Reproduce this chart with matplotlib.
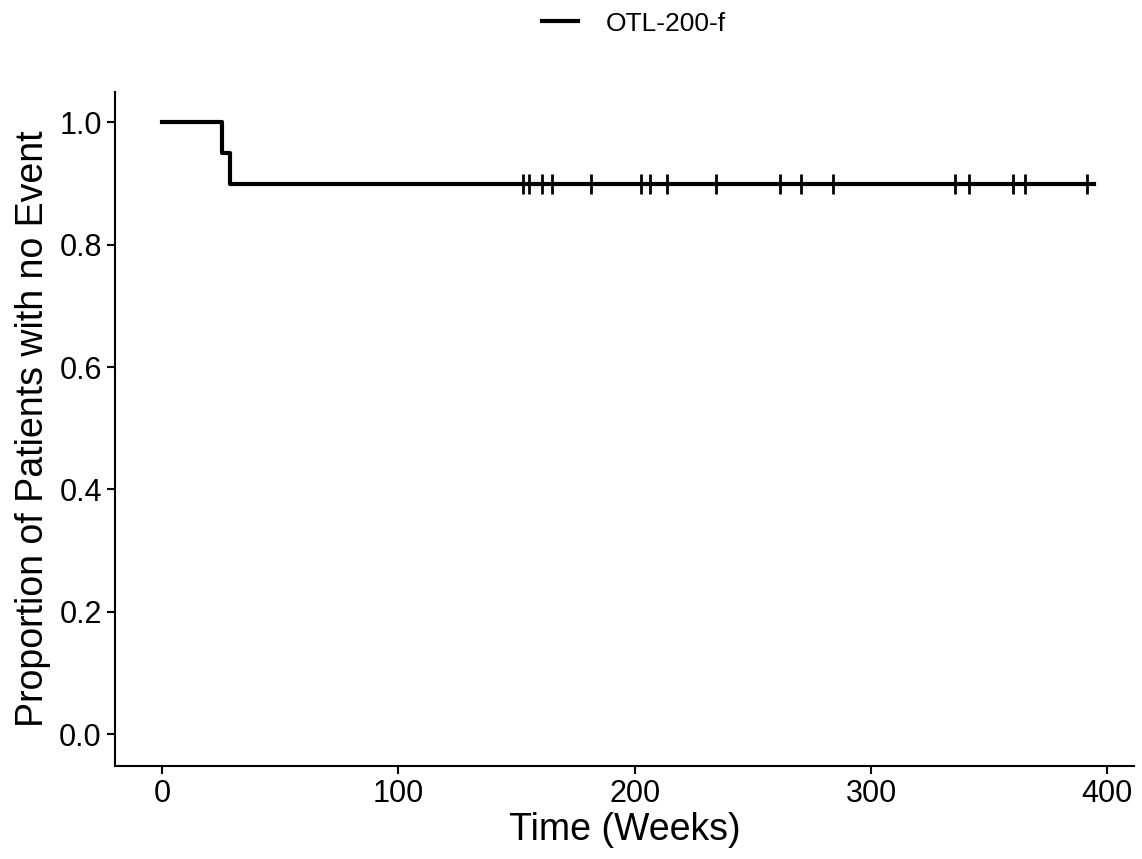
import matplotlib
matplotlib.use('Agg')
import matplotlib.pyplot as plt
import numpy as np

plt.rcParams['font.family'] = ['Liberation Sans', 'DejaVu Sans']

# Kaplan-Meier step data (weeks, survival)
step_times = [0, 25.3, 28.8, 394.5]
step_surv = [1.0, 0.95, 0.90, 0.90]

# censored observations (weeks)
censor_times = [152.7, 155.4, 160.7, 165.0, 181.6, 202.6, 206.6, 213.6, 234.5,
                261.3, 270.5, 284.1, 335.4, 341.3, 360.3, 365.3, 391.4]
censor_surv = [0.90] * len(censor_times)

fig = plt.figure(figsize=(11.42, 8.59), dpi=100)
ax = fig.add_axes([0.1007, 0.1083, 0.8923, 0.7847])

ax.step(step_times, step_surv, where='post', color='black', linewidth=3,
        label='OTL-200-f')
ax.plot(censor_times, censor_surv, ls='none', marker='|', color='black',
        markersize=15, markeredgewidth=2)

ax.set_xlim(-19.9, 411.3)
ax.set_ylim(-0.052, 1.05)
ax.set_xticks([0, 100, 200, 300, 400])
ax.set_yticks(np.linspace(0, 1, 6))
ax.set_yticklabels(['0.0', '0.2', '0.4', '0.6', '0.8', '1.0'])
ax.tick_params(labelsize=22, length=6, width=1.5, color='black', labelcolor='black')

for s in ['top', 'right']:
    ax.spines[s].set_visible(False)
for s in ['left', 'bottom']:
    ax.spines[s].set_linewidth(1.5)

ax.set_xlabel('Time (Weeks)', fontsize=27, labelpad=2)
ax.set_ylabel('Proportion of Patients with no Event', fontsize=27, labelpad=6)

fig.legend(loc='upper center', bbox_to_anchor=(0.555, 1.014), frameon=False,
           fontsize=19, handlelength=1.35, handletextpad=1.05)

plt.savefig('out.png', dpi=100)
